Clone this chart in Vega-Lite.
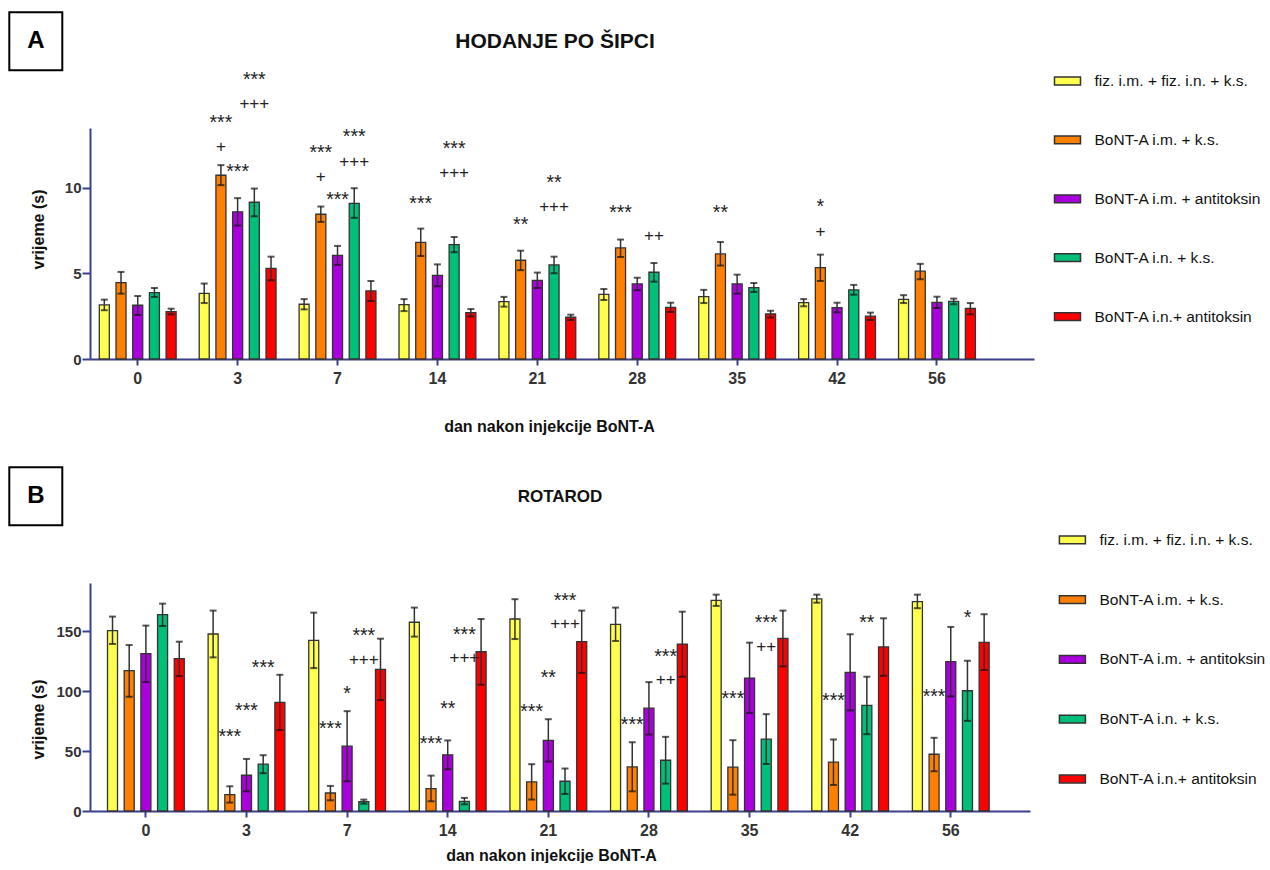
{
  "$schema": "https://vega.github.io/schema/vega-lite/v6.json",
  "padding": {"left": 8, "top": 11, "right": 0, "bottom": 0},
  "config": {
    "font": "Liberation Sans",
    "view": {"stroke": null},
    "axis": {"domainColor": "#3b3f8c", "domainWidth": 2, "tickColor": "#3b3f8c", "tickWidth": 2, "labelFont": "Liberation Sans", "labelFontWeight": "bold", "labelColor": "#333", "titleFont": "Liberation Sans", "titleFontWeight": "bold", "titleColor": "#111", "grid": false},
    "title": {"font": "Liberation Sans", "fontWeight": "bold", "fontSize": 18, "color": "#111", "anchor": "middle", "frame": "group"},
    "legend": {"labelFont": "Liberation Sans", "padding": 0, "strokeWidth": 2}
  },
  "datasets": {
    "a": [
      {"dan":0,"g":"fiz. i.m. + fiz. i.n. + k.s.","t":3.16,"lo":2.85,"hi":3.47,"p":"A"},
      {"dan":0,"g":"BoNT-A i.m. + k.s.","t":4.46,"lo":3.82,"hi":5.09,"p":"A"},
      {"dan":0,"g":"BoNT-A i.m. + antitoksin","t":3.14,"lo":2.57,"hi":3.68,"p":"A"},
      {"dan":0,"g":"BoNT-A i.n. + k.s.","t":3.88,"lo":3.63,"hi":4.15,"p":"A"},
      {"dan":0,"g":"BoNT-A i.n.+ antitoksin","t":2.77,"lo":2.61,"hi":2.94,"p":"A"},
      {"dan":3,"g":"fiz. i.m. + fiz. i.n. + k.s.","t":3.84,"lo":3.27,"hi":4.41,"p":"A"},
      {"dan":3,"g":"BoNT-A i.m. + k.s.","t":10.74,"lo":10.16,"hi":11.33,"p":"A"},
      {"dan":3,"g":"BoNT-A i.m. + antitoksin","t":8.6,"lo":7.8,"hi":9.4,"p":"A"},
      {"dan":3,"g":"BoNT-A i.n. + k.s.","t":9.16,"lo":8.34,"hi":9.96,"p":"A"},
      {"dan":3,"g":"BoNT-A i.n.+ antitoksin","t":5.3,"lo":4.6,"hi":5.98,"p":"A"},
      {"dan":7,"g":"fiz. i.m. + fiz. i.n. + k.s.","t":3.2,"lo":2.9,"hi":3.5,"p":"A"},
      {"dan":7,"g":"BoNT-A i.m. + k.s.","t":8.46,"lo":8.01,"hi":8.91,"p":"A"},
      {"dan":7,"g":"BoNT-A i.m. + antitoksin","t":6.06,"lo":5.5,"hi":6.61,"p":"A"},
      {"dan":7,"g":"BoNT-A i.n. + k.s.","t":9.1,"lo":8.25,"hi":9.98,"p":"A"},
      {"dan":7,"g":"BoNT-A i.n.+ antitoksin","t":3.98,"lo":3.39,"hi":4.56,"p":"A"},
      {"dan":14,"g":"fiz. i.m. + fiz. i.n. + k.s.","t":3.18,"lo":2.8,"hi":3.5,"p":"A"},
      {"dan":14,"g":"BoNT-A i.m. + k.s.","t":6.82,"lo":6.02,"hi":7.62,"p":"A"},
      {"dan":14,"g":"BoNT-A i.m. + antitoksin","t":4.89,"lo":4.25,"hi":5.53,"p":"A"},
      {"dan":14,"g":"BoNT-A i.n. + k.s.","t":6.69,"lo":6.24,"hi":7.13,"p":"A"},
      {"dan":14,"g":"BoNT-A i.n.+ antitoksin","t":2.71,"lo":2.49,"hi":2.92,"p":"A"},
      {"dan":21,"g":"fiz. i.m. + fiz. i.n. + k.s.","t":3.35,"lo":3.06,"hi":3.63,"p":"A"},
      {"dan":21,"g":"BoNT-A i.m. + k.s.","t":5.77,"lo":5.19,"hi":6.33,"p":"A"},
      {"dan":21,"g":"BoNT-A i.m. + antitoksin","t":4.6,"lo":4.15,"hi":5.05,"p":"A"},
      {"dan":21,"g":"BoNT-A i.n. + k.s.","t":5.5,"lo":5.01,"hi":5.98,"p":"A"},
      {"dan":21,"g":"BoNT-A i.n.+ antitoksin","t":2.44,"lo":2.28,"hi":2.59,"p":"A"},
      {"dan":28,"g":"fiz. i.m. + fiz. i.n. + k.s.","t":3.78,"lo":3.45,"hi":4.09,"p":"A"},
      {"dan":28,"g":"BoNT-A i.m. + k.s.","t":6.49,"lo":5.96,"hi":6.98,"p":"A"},
      {"dan":28,"g":"BoNT-A i.m. + antitoksin","t":4.39,"lo":4.02,"hi":4.75,"p":"A"},
      {"dan":28,"g":"BoNT-A i.n. + k.s.","t":5.07,"lo":4.52,"hi":5.61,"p":"A"},
      {"dan":28,"g":"BoNT-A i.n.+ antitoksin","t":3.02,"lo":2.75,"hi":3.29,"p":"A"},
      {"dan":35,"g":"fiz. i.m. + fiz. i.n. + k.s.","t":3.64,"lo":3.27,"hi":4.04,"p":"A"},
      {"dan":35,"g":"BoNT-A i.m. + k.s.","t":6.14,"lo":5.46,"hi":6.84,"p":"A"},
      {"dan":35,"g":"BoNT-A i.m. + antitoksin","t":4.39,"lo":3.82,"hi":4.93,"p":"A"},
      {"dan":35,"g":"BoNT-A i.n. + k.s.","t":4.17,"lo":3.92,"hi":4.44,"p":"A"},
      {"dan":35,"g":"BoNT-A i.n.+ antitoksin","t":2.63,"lo":2.42,"hi":2.82,"p":"A"},
      {"dan":42,"g":"fiz. i.m. + fiz. i.n. + k.s.","t":3.29,"lo":3.08,"hi":3.5,"p":"A"},
      {"dan":42,"g":"BoNT-A i.m. + k.s.","t":5.34,"lo":4.56,"hi":6.1,"p":"A"},
      {"dan":42,"g":"BoNT-A i.m. + antitoksin","t":3.0,"lo":2.73,"hi":3.29,"p":"A"},
      {"dan":42,"g":"BoNT-A i.n. + k.s.","t":4.04,"lo":3.76,"hi":4.33,"p":"A"},
      {"dan":42,"g":"BoNT-A i.n.+ antitoksin","t":2.5,"lo":2.28,"hi":2.71,"p":"A"},
      {"dan":56,"g":"fiz. i.m. + fiz. i.n. + k.s.","t":3.49,"lo":3.27,"hi":3.73,"p":"A"},
      {"dan":56,"g":"BoNT-A i.m. + k.s.","t":5.13,"lo":4.66,"hi":5.56,"p":"A"},
      {"dan":56,"g":"BoNT-A i.m. + antitoksin","t":3.31,"lo":2.98,"hi":3.64,"p":"A"},
      {"dan":56,"g":"BoNT-A i.n. + k.s.","t":3.37,"lo":3.2,"hi":3.53,"p":"A"},
      {"dan":56,"g":"BoNT-A i.n.+ antitoksin","t":2.96,"lo":2.61,"hi":3.27,"p":"A"}
    ],
    "b": [
      {"dan":0,"g":"fiz. i.m. + fiz. i.n. + k.s.","t":150.3,"lo":139.2,"hi":162,"p":"B"},
      {"dan":0,"g":"BoNT-A i.m. + k.s.","t":116.9,"lo":95.2,"hi":138.3,"p":"B"},
      {"dan":0,"g":"BoNT-A i.m. + antitoksin","t":131.1,"lo":107.4,"hi":154.5,"p":"B"},
      {"dan":0,"g":"BoNT-A i.n. + k.s.","t":163.6,"lo":154.2,"hi":172.8,"p":"B"},
      {"dan":0,"g":"BoNT-A i.n.+ antitoksin","t":126.9,"lo":112.4,"hi":141.1,"p":"B"},
      {"dan":3,"g":"fiz. i.m. + fiz. i.n. + k.s.","t":147.5,"lo":128,"hi":167,"p":"B"},
      {"dan":3,"g":"BoNT-A i.m. + k.s.","t":13.6,"lo":7,"hi":20.6,"p":"B"},
      {"dan":3,"g":"BoNT-A i.m. + antitoksin","t":29.8,"lo":16.4,"hi":43.4,"p":"B"},
      {"dan":3,"g":"BoNT-A i.n. + k.s.","t":39,"lo":31.5,"hi":46.5,"p":"B"},
      {"dan":3,"g":"BoNT-A i.n.+ antitoksin","t":90.5,"lo":67.4,"hi":113.5,"p":"B"},
      {"dan":7,"g":"fiz. i.m. + fiz. i.n. + k.s.","t":142.2,"lo":119.1,"hi":165.3,"p":"B"},
      {"dan":7,"g":"BoNT-A i.m. + k.s.","t":15,"lo":8.9,"hi":20.9,"p":"B"},
      {"dan":7,"g":"BoNT-A i.m. + antitoksin","t":54,"lo":24.8,"hi":83.2,"p":"B"},
      {"dan":7,"g":"BoNT-A i.n. + k.s.","t":7.8,"lo":6.1,"hi":9.5,"p":"B"},
      {"dan":7,"g":"BoNT-A i.n.+ antitoksin","t":118,"lo":92.4,"hi":143.6,"p":"B"},
      {"dan":14,"g":"fiz. i.m. + fiz. i.n. + k.s.","t":157.3,"lo":145.3,"hi":169.5,"p":"B"},
      {"dan":14,"g":"BoNT-A i.m. + k.s.","t":18.7,"lo":8.1,"hi":29.5,"p":"B"},
      {"dan":14,"g":"BoNT-A i.m. + antitoksin","t":46.8,"lo":34.8,"hi":58.8,"p":"B"},
      {"dan":14,"g":"BoNT-A i.n. + k.s.","t":8.1,"lo":5.6,"hi":10.9,"p":"B"},
      {"dan":14,"g":"BoNT-A i.n.+ antitoksin","t":132.7,"lo":105.2,"hi":160,"p":"B"},
      {"dan":21,"g":"fiz. i.m. + fiz. i.n. + k.s.","t":160,"lo":143.3,"hi":176.5,"p":"B"},
      {"dan":21,"g":"BoNT-A i.m. + k.s.","t":24.2,"lo":9.5,"hi":39,"p":"B"},
      {"dan":21,"g":"BoNT-A i.m. + antitoksin","t":58.8,"lo":41.2,"hi":76.5,"p":"B"},
      {"dan":21,"g":"BoNT-A i.n. + k.s.","t":24.8,"lo":14.2,"hi":35.4,"p":"B"},
      {"dan":21,"g":"BoNT-A i.n.+ antitoksin","t":141.1,"lo":115,"hi":167,"p":"B"},
      {"dan":28,"g":"fiz. i.m. + fiz. i.n. + k.s.","t":155.6,"lo":141.7,"hi":169.5,"p":"B"},
      {"dan":28,"g":"BoNT-A i.m. + k.s.","t":36.8,"lo":16.4,"hi":57.3,"p":"B"},
      {"dan":28,"g":"BoNT-A i.m. + antitoksin","t":85.7,"lo":63.7,"hi":107.4,"p":"B"},
      {"dan":28,"g":"BoNT-A i.n. + k.s.","t":42.3,"lo":22.8,"hi":61.8,"p":"B"},
      {"dan":28,"g":"BoNT-A i.n.+ antitoksin","t":139.1,"lo":111.9,"hi":166.1,"p":"B"},
      {"dan":35,"g":"fiz. i.m. + fiz. i.n. + k.s.","t":175.6,"lo":170.9,"hi":180.3,"p":"B"},
      {"dan":35,"g":"BoNT-A i.m. + k.s.","t":36.5,"lo":13.6,"hi":59,"p":"B"},
      {"dan":35,"g":"BoNT-A i.m. + antitoksin","t":110.8,"lo":81.6,"hi":140.3,"p":"B"},
      {"dan":35,"g":"BoNT-A i.n. + k.s.","t":59.9,"lo":39.2,"hi":80.7,"p":"B"},
      {"dan":35,"g":"BoNT-A i.n.+ antitoksin","t":143.9,"lo":120.5,"hi":167,"p":"B"},
      {"dan":42,"g":"fiz. i.m. + fiz. i.n. + k.s.","t":176.7,"lo":173.6,"hi":180.3,"p":"B"},
      {"dan":42,"g":"BoNT-A i.m. + k.s.","t":40.7,"lo":21.7,"hi":59.6,"p":"B"},
      {"dan":42,"g":"BoNT-A i.m. + antitoksin","t":115.5,"lo":83.8,"hi":147.3,"p":"B"},
      {"dan":42,"g":"BoNT-A i.n. + k.s.","t":88,"lo":64,"hi":111.9,"p":"B"},
      {"dan":42,"g":"BoNT-A i.n.+ antitoksin","t":136.7,"lo":112.7,"hi":160.6,"p":"B"},
      {"dan":56,"g":"fiz. i.m. + fiz. i.n. + k.s.","t":174.5,"lo":169,"hi":180.3,"p":"B"},
      {"dan":56,"g":"BoNT-A i.m. + k.s.","t":47.3,"lo":33.1,"hi":61,"p":"B"},
      {"dan":56,"g":"BoNT-A i.m. + antitoksin","t":124.4,"lo":95.5,"hi":153.4,"p":"B"},
      {"dan":56,"g":"BoNT-A i.n. + k.s.","t":100.2,"lo":75.1,"hi":125.2,"p":"B"},
      {"dan":56,"g":"BoNT-A i.n.+ antitoksin","t":140.6,"lo":117.5,"hi":164,"p":"B"}
    ],
    "annA": [
      {"dan":3,"g":"BoNT-A i.m. + k.s.","v":14.1,"txt":"***"},
      {"dan":3,"g":"BoNT-A i.m. + k.s.","v":12.45,"txt":"+"},
      {"dan":3,"g":"BoNT-A i.m. + antitoksin","v":11.25,"txt":"***"},
      {"dan":3,"g":"BoNT-A i.n. + k.s.","v":16.6,"txt":"***"},
      {"dan":3,"g":"BoNT-A i.n. + k.s.","v":14.95,"txt":"+++"},
      {"dan":7,"g":"BoNT-A i.m. + k.s.","v":12.36,"txt":"***"},
      {"dan":7,"g":"BoNT-A i.m. + k.s.","v":10.7,"txt":"+"},
      {"dan":7,"g":"BoNT-A i.m. + antitoksin","v":9.57,"txt":"***"},
      {"dan":7,"g":"BoNT-A i.n. + k.s.","v":13.27,"txt":"***"},
      {"dan":7,"g":"BoNT-A i.n. + k.s.","v":11.58,"txt":"+++"},
      {"dan":14,"g":"BoNT-A i.m. + k.s.","v":9.34,"txt":"***"},
      {"dan":14,"g":"BoNT-A i.n. + k.s.","v":12.55,"txt":"***"},
      {"dan":14,"g":"BoNT-A i.n. + k.s.","v":10.94,"txt":"+++"},
      {"dan":21,"g":"BoNT-A i.m. + k.s.","v":8.11,"txt":"**"},
      {"dan":21,"g":"BoNT-A i.n. + k.s.","v":10.6,"txt":"**"},
      {"dan":21,"g":"BoNT-A i.n. + k.s.","v":8.93,"txt":"+++"},
      {"dan":28,"g":"BoNT-A i.m. + k.s.","v":8.81,"txt":"***"},
      {"dan":28,"g":"BoNT-A i.n. + k.s.","v":7.23,"txt":"++"},
      {"dan":35,"g":"BoNT-A i.m. + k.s.","v":8.81,"txt":"**"},
      {"dan":42,"g":"BoNT-A i.m. + k.s.","v":9.18,"txt":"*"},
      {"dan":42,"g":"BoNT-A i.m. + k.s.","v":7.49,"txt":"+"}
    ],
    "annB": [
      {"dan":3,"g":"BoNT-A i.m. + k.s.","v":66,"txt":"***"},
      {"dan":3,"g":"BoNT-A i.m. + antitoksin","v":87.7,"txt":"***"},
      {"dan":3,"g":"BoNT-A i.n. + k.s.","v":123,"txt":"***"},
      {"dan":7,"g":"BoNT-A i.m. + k.s.","v":72.1,"txt":"***"},
      {"dan":7,"g":"BoNT-A i.m. + antitoksin","v":101.8,"txt":"*"},
      {"dan":7,"g":"BoNT-A i.n. + k.s.","v":150.3,"txt":"***"},
      {"dan":7,"g":"BoNT-A i.n. + k.s.","v":126.4,"txt":"+++"},
      {"dan":14,"g":"BoNT-A i.m. + k.s.","v":60.4,"txt":"***"},
      {"dan":14,"g":"BoNT-A i.m. + antitoksin","v":88.8,"txt":"**"},
      {"dan":14,"g":"BoNT-A i.n. + k.s.","v":150.8,"txt":"***"},
      {"dan":14,"g":"BoNT-A i.n. + k.s.","v":128,"txt":"+++"},
      {"dan":21,"g":"BoNT-A i.m. + k.s.","v":86.8,"txt":"***"},
      {"dan":21,"g":"BoNT-A i.m. + antitoksin","v":114.7,"txt":"**"},
      {"dan":21,"g":"BoNT-A i.n. + k.s.","v":179.5,"txt":"***"},
      {"dan":21,"g":"BoNT-A i.n. + k.s.","v":156.4,"txt":"+++"},
      {"dan":28,"g":"BoNT-A i.m. + k.s.","v":75.7,"txt":"***"},
      {"dan":28,"g":"BoNT-A i.n. + k.s.","v":132.7,"txt":"***"},
      {"dan":28,"g":"BoNT-A i.n. + k.s.","v":109.7,"txt":"++"},
      {"dan":35,"g":"BoNT-A i.m. + k.s.","v":97.4,"txt":"***"},
      {"dan":35,"g":"BoNT-A i.n. + k.s.","v":161.1,"txt":"***"},
      {"dan":35,"g":"BoNT-A i.n. + k.s.","v":137.7,"txt":"++"},
      {"dan":42,"g":"BoNT-A i.m. + k.s.","v":95.7,"txt":"***"},
      {"dan":42,"g":"BoNT-A i.n. + k.s.","v":160.6,"txt":"**"},
      {"dan":56,"g":"BoNT-A i.m. + k.s.","v":99.1,"txt":"***"},
      {"dan":56,"g":"BoNT-A i.n. + k.s.","v":165.3,"txt":"*"}
    ]
  },
  "columns": 1,
  "align": "none",
  "spacing": 32,
  "resolve": {
    "scale": {"color": "independent", "opacity": "independent", "x": "independent", "y": "independent", "xOffset": "independent"},
    "legend": {"color": "independent", "opacity": "independent"}
  },
  "concat": [
    {
      "width": 944,
      "height": 231,
      "title": {"text": "HODANJE PO ŠIPCI", "offset": -41, "fontSize": 21, "dx": -7},
      "encoding": {
        "x": {"field": "dan", "type": "ordinal", "title": "dan nakon injekcije BoNT-A",
          "scale": {"paddingInner": 0.231, "paddingOuter": 0.34, "align": 0.137},
          "axis": {"labelAngle": 0, "labelFontSize": 16, "tickSize": 6, "labelPadding": 5, "titleFontSize": 16, "titleX": 459, "titleY": 72, "titleBaseline": "alphabetic"}},
        "xOffset": {"field": "g", "type": "nominal",
          "scale": {"domain": ["fiz. i.m. + fiz. i.n. + k.s.", "BoNT-A i.m. + k.s.", "BoNT-A i.m. + antitoksin", "BoNT-A i.n. + k.s.", "BoNT-A i.n.+ antitoksin"], "paddingInner": 0.4, "paddingOuter": 0}}
      },
      "layer": [
        {
          "data": {"name": "a"},
          "mark": {"type": "bar", "stroke": "#333", "strokeWidth": 1.3},
          "encoding": {
            "y": {"field": "t", "type": "quantitative", "title": "vrijeme (s)", "scale": {"domain": [0, 13.5], "nice": false},
              "axis": {"values": [0, 5, 10], "labelFontSize": 15, "tickSize": 8, "labelPadding": 1, "titleFontSize": 16, "titleX": -47, "titleY": 101, "titleBaseline": "alphabetic", "titleAngle": 270}},
            "color": {"field": "g", "type": "nominal",
              "scale": {"domain": ["fiz. i.m. + fiz. i.n. + k.s.", "BoNT-A i.m. + k.s.", "BoNT-A i.m. + antitoksin", "BoNT-A i.n. + k.s.", "BoNT-A i.n.+ antitoksin"], "range": ["#ffff4d", "#ff8000", "#aa00dd", "#00bf78", "#ff0000"]},
              "legend": {"orient": "none", "legendX": 963.5, "legendY": -61, "title": null, "direction": "vertical", "symbolType": "M-1,-0.3H1V0.3H-1Z", "symbolSize": 676, "symbolStrokeWidth": 1.5, "symbolStrokeColor": "#333", "labelFontSize": 15.5, "labelColor": "#111", "labelOffset": 13, "rowPadding": 35.9, "labelLimit": 300,
                "encode": {"symbols": {"update": {"stroke": {"value": "#333"}, "strokeWidth": {"value": 1.5}}}}}},
            "opacity": {"field": "p", "type": "ordinal", "scale": {"range": [1, 1]},
              "legend": {"orient": "none", "legendX": -80.7, "legendY": -115.7, "title": null, "symbolSize": 0, "symbolOpacity": 0, "symbolStrokeWidth": 0, "labelOffset": -23, "labelFontSize": 24, "labelFontWeight": "bold", "labelColor": "#000", "strokeColor": "#000", "padding": 17}}
          }
        },
        {
          "data": {"name": "a"},
          "mark": {"type": "rule", "color": "#333", "strokeWidth": 1.5},
          "encoding": {
            "y": {"field": "lo", "type": "quantitative", "title": "vrijeme (s)", "scale": {"domain": [0, 13.5], "nice": false}},
            "y2": {"field": "hi"}
          }
        },
        {
          "data": {"name": "a"},
          "mark": {"type": "tick", "orient": "horizontal", "size": 7, "thickness": 2, "color": "#111"},
          "encoding": {"y": {"field": "lo", "type": "quantitative", "title": "vrijeme (s)", "scale": {"domain": [0, 13.5], "nice": false}}}
        },
        {
          "data": {"name": "a"},
          "mark": {"type": "tick", "orient": "horizontal", "size": 7, "thickness": 2, "color": "#111"},
          "encoding": {"y": {"field": "hi", "type": "quantitative", "title": "vrijeme (s)", "scale": {"domain": [0, 13.5], "nice": false}}}
        },
        {
          "data": {"name": "annA"},
          "transform": [{"filter": "indexof(datum.txt, '*') >= 0"}],
          "mark": {"type": "text", "fontSize": 19.5, "baseline": "middle", "dy": 5, "color": "#222"},
          "encoding": {"y": {"field": "v", "type": "quantitative", "title": "vrijeme (s)", "scale": {"domain": [0, 13.5], "nice": false}}, "text": {"field": "txt"}}
        },
        {
          "data": {"name": "annA"},
          "transform": [{"filter": "indexof(datum.txt, '*') < 0"}],
          "mark": {"type": "text", "fontSize": 17, "baseline": "middle", "dy": 1, "color": "#222"},
          "encoding": {"y": {"field": "v", "type": "quantitative", "title": "vrijeme (s)", "scale": {"domain": [0, 13.5], "nice": false}}, "text": {"field": "txt"}}
        }
      ]
    },
    {
      "width": 940,
      "height": 228,
      "title": {"text": "ROTAROD", "offset": -40, "fontSize": 17},
      "encoding": {
        "x": {"field": "dan", "type": "ordinal", "title": "dan nakon injekcije BoNT-A",
          "scale": {"paddingInner": 0.237, "paddingOuter": 0.29, "align": 0.3},
          "axis": {"labelAngle": 0, "labelFontSize": 16, "tickSize": 6, "labelPadding": 5, "titleFontSize": 16, "titleX": 461, "titleY": 49, "titleBaseline": "alphabetic"}},
        "xOffset": {"field": "g", "type": "nominal",
          "scale": {"domain": ["fiz. i.m. + fiz. i.n. + k.s.", "BoNT-A i.m. + k.s.", "BoNT-A i.m. + antitoksin", "BoNT-A i.n. + k.s.", "BoNT-A i.n.+ antitoksin"], "paddingInner": 0.4, "paddingOuter": 0}}
      },
      "layer": [
        {
          "data": {"name": "b"},
          "mark": {"type": "bar", "stroke": "#333", "strokeWidth": 1.3},
          "encoding": {
            "y": {"field": "t", "type": "quantitative", "title": "vrijeme (s)", "scale": {"domain": [0, 190], "nice": false},
              "axis": {"values": [0, 50, 100, 150], "labelFontSize": 15, "tickSize": 8, "labelPadding": 1, "titleFontSize": 16, "titleX": -47, "titleY": 136, "titleBaseline": "alphabetic", "titleAngle": 270}},
            "color": {"field": "g", "type": "nominal",
              "scale": {"domain": ["fiz. i.m. + fiz. i.n. + k.s.", "BoNT-A i.m. + k.s.", "BoNT-A i.m. + antitoksin", "BoNT-A i.n. + k.s.", "BoNT-A i.n.+ antitoksin"], "range": ["#ffff4d", "#ff8000", "#aa00dd", "#00bf78", "#ff0000"]},
              "legend": {"orient": "none", "legendX": 968.4, "legendY": -57.2, "title": null, "direction": "vertical", "symbolType": "M-1,-0.3H1V0.3H-1Z", "symbolSize": 676, "symbolStrokeWidth": 1.5, "symbolStrokeColor": "#333", "labelFontSize": 15.5, "labelColor": "#111", "labelOffset": 13, "rowPadding": 36.8, "labelLimit": 300,
                "encode": {"symbols": {"update": {"stroke": {"value": "#333"}, "strokeWidth": {"value": 1.5}}}}}},
            "opacity": {"field": "p", "type": "ordinal", "scale": {"range": [1, 1]},
              "legend": {"orient": "none", "legendX": -80.7, "legendY": -115.7, "title": null, "symbolSize": 0, "symbolOpacity": 0, "symbolStrokeWidth": 0, "labelOffset": -23, "labelFontSize": 24, "labelFontWeight": "bold", "labelColor": "#000", "strokeColor": "#000", "padding": 17}}
          }
        },
        {
          "data": {"name": "b"},
          "mark": {"type": "rule", "color": "#333", "strokeWidth": 1.5},
          "encoding": {
            "y": {"field": "lo", "type": "quantitative", "title": "vrijeme (s)", "scale": {"domain": [0, 190], "nice": false}},
            "y2": {"field": "hi"}
          }
        },
        {
          "data": {"name": "b"},
          "mark": {"type": "tick", "orient": "horizontal", "size": 7, "thickness": 2, "color": "#111"},
          "encoding": {"y": {"field": "lo", "type": "quantitative", "title": "vrijeme (s)", "scale": {"domain": [0, 190], "nice": false}}}
        },
        {
          "data": {"name": "b"},
          "mark": {"type": "tick", "orient": "horizontal", "size": 7, "thickness": 2, "color": "#111"},
          "encoding": {"y": {"field": "hi", "type": "quantitative", "title": "vrijeme (s)", "scale": {"domain": [0, 190], "nice": false}}}
        },
        {
          "data": {"name": "annB"},
          "transform": [{"filter": "indexof(datum.txt, '*') >= 0"}],
          "mark": {"type": "text", "fontSize": 19.5, "baseline": "middle", "dy": 5, "color": "#222"},
          "encoding": {"y": {"field": "v", "type": "quantitative", "title": "vrijeme (s)", "scale": {"domain": [0, 190], "nice": false}}, "text": {"field": "txt"}}
        },
        {
          "data": {"name": "annB"},
          "transform": [{"filter": "indexof(datum.txt, '*') < 0"}],
          "mark": {"type": "text", "fontSize": 17, "baseline": "middle", "dy": 1, "color": "#222"},
          "encoding": {"y": {"field": "v", "type": "quantitative", "title": "vrijeme (s)", "scale": {"domain": [0, 190], "nice": false}}, "text": {"field": "txt"}}
        }
      ]
    }
  ]
}
